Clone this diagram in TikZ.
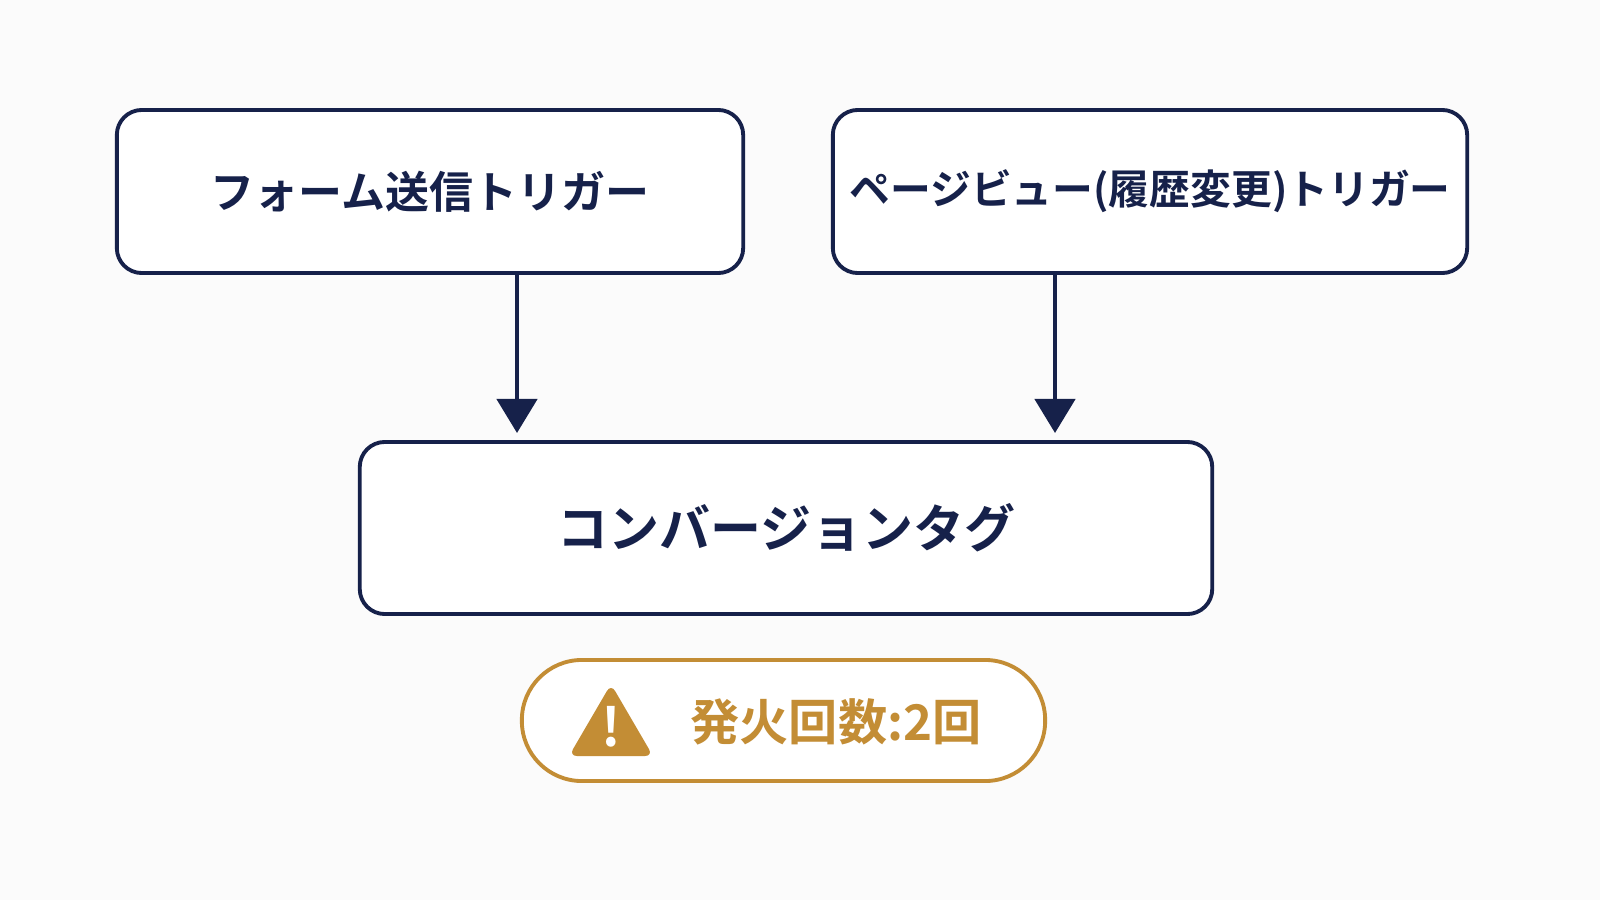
\documentclass[tikz,border=0pt]{standalone}
\usepackage{fontspec}
\newfontfamily\cjk{Noto Sans CJK JP Bold}
\usetikzlibrary{arrows.meta}
\definecolor{navy}{HTML}{16214A}
\definecolor{gold}{HTML}{C38D35}
\begin{document}
\begin{tikzpicture}[x=0.01cm,y=-0.01cm,
 box/.style={draw=navy,line width=1.1pt,rounded corners=0.25cm,fill=white,text=navy,font=\cjk\fontsize{12.5}{14}\selectfont,inner sep=0pt},
 arr/.style={draw=navy,line width=1.3pt,-{Triangle[length=0.34cm,width=0.4cm]}}]
\fill[white!97!gray] (0,0) rectangle (1600,900);
\useasboundingbox (0,0) rectangle (1600,900);
\node[box,minimum width=6.26cm,minimum height=1.63cm] (a) at (430,191.5) {フォーム送信トリガー};
\node[box,minimum width=6.34cm,minimum height=1.63cm,font=\cjk\fontsize{11.6}{14}\selectfont] (b) at (1150,191.5) {ページビュー(履歴変更)トリガー};
\node[box,minimum width=8.52cm,minimum height=1.72cm,font=\cjk\fontsize{14.5}{16}\selectfont] (c) at (786,528) {コンバージョンタグ};
\draw[arr] (a.south -| 517,0) -- (517,433);
\draw[arr] (b.south -| 1055,0) -- (1055,433);
\node[draw=gold,line width=1.1pt,rounded corners=0.6cm,fill=white,minimum width=5.23cm,minimum height=1.21cm] (d) at (783.5,720.5) {};
\node[text=gold,font=\cjk\fontsize{14}{16}\selectfont,anchor=west] (t) at (678,722) {発火回数:2回};
\fill[gold,rounded corners=0.08cm] (611,684) -- (653,756) -- (569,756) -- cycle;
\node[text=white,font=\cjk\fontsize{15}{17}\selectfont] (ex) at (611,727) {!};
\end{tikzpicture}
\end{document}
